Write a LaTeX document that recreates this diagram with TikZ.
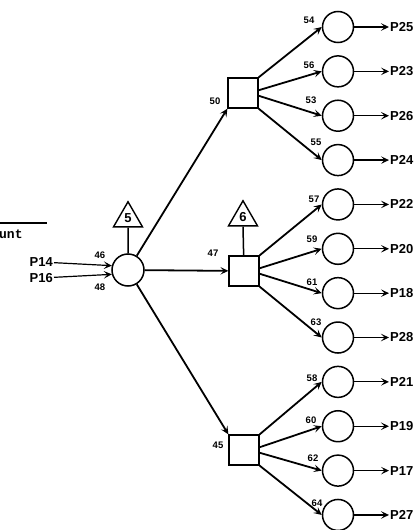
\documentclass[tikz,border=0pt]{standalone}
\usepackage{fontspec}
\setmainfont{Liberation Sans}
\setmonofont{Liberation Mono}
\usetikzlibrary{shapes.geometric,arrows.meta}

\begin{document}
\begin{tikzpicture}[x=1pt,y=-1pt,
  hub/.style={circle, draw, line width=1.5pt, minimum size=32pt, inner sep=0pt},
  sink/.style={circle, draw, line width=1.5pt, minimum size=31pt, inner sep=0pt},
  box/.style={rectangle, draw, line width=1.3pt, minimum size=30pt, inner sep=0pt},
  tri/.style={regular polygon, regular polygon sides=3, draw, line width=1.4pt,
              minimum size=33.5pt, inner sep=0pt, font=\bfseries\fontsize{13}{13}\selectfont},
  edge/.style={line width=1.8pt, -{Stealth[length=8pt,width=7.5pt,inset=3.5pt]}},
  feed/.style={line width=1.2pt, -{Stealth[length=8pt,width=7.5pt,inset=3.5pt]}},
  stem/.style={line width=1.5pt},
  plab/.style={inner sep=1pt, font=\bfseries\fontsize{13}{14}\selectfont},
  num/.style={inner sep=0pt, font=\bfseries\fontsize{9.5}{9.5}\selectfont}]

\useasboundingbox (0,0) rectangle (416,530);

% Heading fragment at left edge
\draw[line width=2pt] (0,223) -- (47,223);
\node[anchor=west, inner sep=0pt, font=\ttfamily\bfseries\fontsize{13}{13}\selectfont] at (-1,234) {unt};

% === SOURCE ===
\node[hub] (src) at (128,270) {};
\node[tri] (t5) at (128,218.5) {5};
\draw[stem] (t5.south) -- (src);

\node[plab, anchor=east] (p14) at (54,262) {P14};
\node[plab, anchor=east] (p16) at (54,278) {P16};
\draw[feed] (p14) -- (src.165);
\draw[feed] (p16) -- (src.195);
\node[num] at (100,255) {46};
\node[num] at (100,287) {48};

% === SPLITTERS ===
\node[box] (b1) at (243,93) {};
\node[box] (b2) at (244,271) {};
\node[box] (b3) at (244,450) {};
\node[tri] (t6) at (243,217.5) {6};
\draw[stem] (t6.south) -- (b2);

\draw[edge] (src) -- (b1.south west);
\draw[edge] (src) -- (b2);
\draw[edge] (src) -- (b3.north west);
\node[num] at (215,101) {50};
\node[num] at (213,253) {47};
\node[num] at (218,445) {45};

% === OUTLETS ===
\foreach \i/\from/\n/\lx/\ly/\out in {
  0/b1.north east/54/309/20/P25,
  1/b1.10/56/309/65/P23,
  2/b1.-10/53/311/100/P26,
  3/b1.south east/55/316/142/P24,
  4/b2.north east/57/314/199/P22,
  5/b2.10/59/312/239/P20,
  6/b2.-10/61/312/282/P18,
  7/b2.south east/63/316/322/P28,
  8/b3.north east/58/312/378/P21,
  9/b3.10/60/311/420/P19,
  10/b3.-10/62/313/458/P17,
  11/b3.south east/64/317/503/P27} {
  \node[sink] (c\i) at (338,{27+44.36*\i}) {};
  \node[plab, anchor=west] (o\i) at (389,{27+44.36*\i}) {\out};
  \draw[edge] (\from) -- (c\i.west);
  \draw[feed] (c\i) -- (o\i);
  \node[num] at (\lx,\ly) {\n};
}

\end{tikzpicture}
\end{document}
